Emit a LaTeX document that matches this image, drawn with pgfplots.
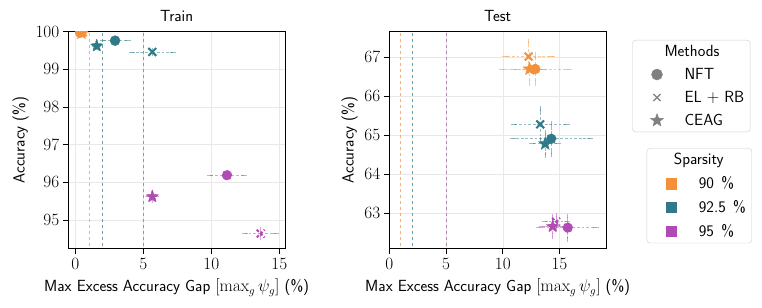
\documentclass[border=0pt]{standalone}
\usepackage{pgfplots}
\pgfplotsset{compat=1.18}
\definecolor{cor}{RGB}{242,145,58}
\definecolor{cte}{RGB}{46,123,135}
\definecolor{cpu}{RGB}{176,75,180}
\definecolor{cgr}{RGB}{128,128,128}
\newcommand\fs{\fontsize{16.2}{18.5}\selectfont}
\pgfdeclareplotmark{fstar}{%
  \pgfpathmoveto{\pgfpointpolar{90}{\pgfplotmarksize}}%
  \pgfpathlineto{\pgfpointpolar{126}{0.42\pgfplotmarksize}}%
  \pgfpathlineto{\pgfpointpolar{162}{\pgfplotmarksize}}%
  \pgfpathlineto{\pgfpointpolar{198}{0.42\pgfplotmarksize}}%
  \pgfpathlineto{\pgfpointpolar{234}{\pgfplotmarksize}}%
  \pgfpathlineto{\pgfpointpolar{270}{0.42\pgfplotmarksize}}%
  \pgfpathlineto{\pgfpointpolar{306}{\pgfplotmarksize}}%
  \pgfpathlineto{\pgfpointpolar{342}{0.42\pgfplotmarksize}}%
  \pgfpathlineto{\pgfpointpolar{18}{\pgfplotmarksize}}%
  \pgfpathlineto{\pgfpointpolar{54}{0.42\pgfplotmarksize}}%
  \pgfpathclose\pgfusepathqfillstroke}
\pgfplotsset{
  base/.style={scale only axis, width=216.7bp, height=216.7bp,
    axis line style={line width=0.9pt}, grid=major, grid style={black!9, line width=0.5pt},
    tick align=outside, xtick pos=left, ytick pos=left, major tick length=5.5bp,
    tick style={black, line width=0.8pt},
    tick label style={font=\fs}, label style={font=\fs\sffamily}, title style={font=\fs\sffamily},
    xticklabel style={yshift=-1.5bp}, xlabel style={yshift=-2bp},
    xlabel={Max Excess Accuracy Gap $[\max_g \psi_g]$ (\%)}, ylabel={Accuracy (\%)},
    clip marker paths=true},
  eb/.style={only marks, color=#1,
    error bars/x dir=both, error bars/x explicit, error bars/y dir=both, error bars/y explicit,
    error bars/error bar style={dash pattern=on 2.8bp off 1.8bp, line width=0.7pt, opacity=0.5},
    error bars/error mark options={solid, mark size=3bp, line width=0.7pt, opacity=0.5}},
  nft/.style={eb=#1, mark=*, mark size=5bp, mark options={fill=#1, draw=#1}},
  elr/.style={eb=#1, mark=x, mark size=5.5bp, mark options={draw=#1, line width=2pt}},
  ceag/.style={eb=#1, mark=fstar, mark size=6.8bp, mark options={fill=#1, draw=#1}},
  vl/.style={color=#1, dash pattern=on 3bp off 3bp, line width=0.8pt, opacity=0.7, forget plot},
  leg/.style={at={(0,0)}, anchor=south west, scale only axis, width=762bp, height=308bp,
    hide axis, xmin=0, xmax=1, ymin=0, ymax=1, legend cell align=left,
    legend image code/.code={\path[draw=none, fill=none] (0,0) -- (46bp,0); \draw[##1] plot coordinates {(20.5bp,0)};},
    legend style={draw=black!20, rounded corners=3bp, font=\fs\sffamily, row sep=6.3bp,
      inner xsep=4bp, inner ysep=3bp}},
}
\begin{document}
\begin{tikzpicture}
\path[use as bounding box] (0,0) rectangle (762bp,308bp);
% Train
\begin{axis}[base, at={(68.3bp,59.7bp)}, anchor=south west, title={Train},
  xmin=-0.52, xmax=15.42, ymin=94.25, ymax=100,
  xtick={0,5,10,15}, ytick={95,96,97,98,99,100}]
\addplot[vl=cor] coordinates {(1,94) (1,101)};
\addplot[vl=cte] coordinates {(2,94) (2,101)};
\addplot[vl=cpu] coordinates {(5,94) (5,101)};
\addplot+[nft=cor] coordinates {(0.35,99.97) +- (0.15,0.02)};
\addplot+[elr=cor] coordinates {(0.55,99.98) +- (0.2,0.02)};
\addplot+[ceag=cor] coordinates {(0.45,99.96) +- (0.15,0.02)};
\addplot+[nft=cte] coordinates {(2.92,99.76) +- (0.92,0.03)};
\addplot+[elr=cte] coordinates {(5.66,99.46) +- (1.5,0.03)};
\addplot+[ceag=cte] coordinates {(1.57,99.62) +- (0.1,0.03)};
\addplot+[nft=cpu] coordinates {(11.15,96.19) +- (1.22,0.03)};
\addplot+[elr=cpu] coordinates {(13.63,94.64) +- (1.12,0.1)};
\addplot+[ceag=cpu] coordinates {(5.66,95.62) +- (0.3,0.08)};
\end{axis}
% Test
\begin{axis}[base, at={(389.3bp,59.7bp)}, anchor=south west, title={Test},
  xmin=0, xmax=19.1, ymin=62.1, ymax=67.66,
  xtick={0,5,10,15}, ytick={63,64,65,66,67}]
\addplot[vl=cor] coordinates {(1,62) (1,68)};
\addplot[vl=cte] coordinates {(2,62) (2,68)};
\addplot[vl=cpu] coordinates {(5,62) (5,68)};
\addplot+[elr=cor] coordinates {(12.28,67.02) +- (2.05,0.38)};
\addplot+[ceag=cor] coordinates {(12.36,66.70) +- (1.3,0.35)};
\addplot+[nft=cor] coordinates {(12.86,66.70) +- (2.95,0.35)};
\addplot+[elr=cte] coordinates {(13.3,65.28) +- (2.33,0.4)};
\addplot+[ceag=cte] coordinates {(13.74,64.78) +- (1.17,0.28)};
\addplot+[nft=cte] coordinates {(14.27,64.91) +- (3.38,0.38)};
\addplot+[elr=cpu] coordinates {(14.7,62.78) +- (1.0,0.15)};
\addplot+[ceag=cpu] coordinates {(14.4,62.66) +- (0.9,0.25)};
\addplot+[nft=cpu] coordinates {(15.73,62.63) +- (2.5,0.28)};
\end{axis}
% Legends
\begin{axis}[leg, legend style={at={(632.3/762,268/308)}, anchor=north west}]
\addlegendimage{empty legend}\addlegendentry{\hspace{-20bp}Methods}
\addlegendimage{only marks, mark=*, mark size=5.5bp, color=cgr}\addlegendentry{NFT}
\addlegendimage{only marks, mark=x, mark size=5bp, color=cgr, mark options={line width=1.3pt}}\addlegendentry{EL $+$ RB}
\addlegendimage{only marks, mark=fstar, mark size=6.8bp, color=cgr}\addlegendentry{CEAG}
\end{axis}
\begin{axis}[leg, legend style={at={(646.7/762,159.7/308)}, anchor=north west}]
\addlegendimage{empty legend}\addlegendentry{\hspace{-25bp}Sparsity}
\addlegendimage{only marks, mark=square*, mark size=5.2bp, color=cor}\addlegendentry{90\hspace{0.45em}\%}
\addlegendimage{only marks, mark=square*, mark size=5.2bp, color=cte}\addlegendentry{92.5\hspace{0.45em}\%}
\addlegendimage{only marks, mark=square*, mark size=5.2bp, color=cpu}\addlegendentry{95\hspace{0.45em}\%}
\end{axis}
\end{tikzpicture}
\end{document}
